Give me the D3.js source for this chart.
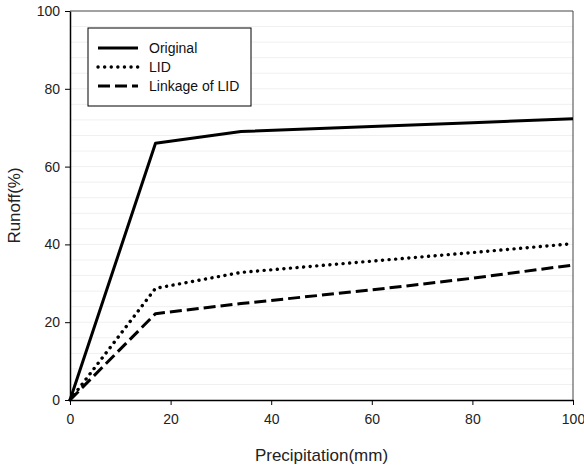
<!DOCTYPE html>
<html>
<head>
<meta charset="utf-8">
<script src="https://cdn.jsdelivr.net/npm/d3@7"></script>
<style>
  body { margin: 0; background: #fff; }
  text { font-family: "Liberation Sans", Arial, sans-serif; }
</style>
</head>
<body>
<svg id="chart"></svg>
<script>
// precipitation (mm) where values were read
const precip = [0, 17, 34, 60, 80, 100];
const original = [0, 66, 69, 70.3, 71.3, 72.3];
const lid = [0, 28.7, 32.8, 35.7, 37.9, 40.2];
const linkage = [0, 22.2, 24.8, 28.3, 31.3, 34.7];
const seriesNames = ['Original', 'LID', 'Linkage of LID'];
const xTicks = [0, 20, 40, 60, 80, 100];
const yTicks = [0, 20, 40, 60, 80, 100];

var width = 584, height = 467;
var margin = { top: 11, right: 11, bottom: 67, left: 70 };

var svg = d3.select('#chart')
  .attr('width', width)
  .attr('height', height);

var x = d3.scaleLinear().domain([0, 100]).range([margin.left, width - margin.right]);
var y = d3.scaleLinear().domain([0, 100]).range([height - margin.bottom, margin.top]);

// light gridlines every 4 %
svg.append('g')
  .selectAll('line')
  .data(d3.range(4, 100, 4))
  .join('line')
    .attr('x1', x(0)).attr('x2', x(100))
    .attr('y1', d => y(d)).attr('y2', d => y(d))
    .attr('stroke', '#f0f0f0')
    .attr('stroke-width', 1);

// frame top/right
svg.append('path')
  .attr('d', `M${x(0)},${y(100)}H${x(100)}V${y(0)}`)
  .attr('fill', 'none')
  .attr('stroke', '#444')
  .attr('stroke-width', 1);

// series
var series = [
  { name: seriesNames[0], values: original, dash: null, cap: 'butt' },
  { name: seriesNames[1], values: lid, dash: '0.1,6.5', cap: 'round' },
  { name: seriesNames[2], values: linkage, dash: '12,5', cap: 'butt' }
];

var line = d3.line()
  .x((d, i) => x(precip[i]))
  .y(d => y(d));

svg.append('g')
  .selectAll('path')
  .data(series)
  .join('path')
    .attr('d', d => line(d.values))
    .attr('fill', 'none')
    .attr('stroke', '#000')
    .attr('stroke-width', d => d.cap === 'round' ? 3.4 : 3)
    .attr('stroke-linejoin', 'round')
    .attr('stroke-linecap', d => d.cap)
    .attr('stroke-dasharray', d => d.dash);

// axes
var xAxis = svg.append('g')
  .attr('transform', 'translate(0,' + y(0) + ')')
  .call(d3.axisBottom(x).tickValues(xTicks).tickSize(5).tickSizeOuter(0).tickPadding(9));
var yAxis = svg.append('g')
  .attr('transform', 'translate(' + x(0) + ',0)')
  .call(d3.axisLeft(y).tickValues(yTicks).tickSize(5).tickSizeOuter(0).tickPadding(5));

[xAxis, yAxis].forEach(function(a) {
  a.select('.domain').attr('stroke', '#000').attr('stroke-width', 1.5);
  a.selectAll('.tick line').attr('stroke', '#000').attr('stroke-width', 1);
  a.selectAll('.tick text')
    .attr('fill', '#222')
    .style('font-size', '14px')
    .style('font-family', '"Liberation Sans", Arial, sans-serif');
});

// axis titles
svg.append('text')
  .attr('x', x(50))
  .attr('y', 461)
  .attr('text-anchor', 'middle')
  .style('font-size', '17px')
  .attr('fill', '#222')
  .text('Precipitation(mm)');

svg.append('text')
  .attr('transform', 'translate(20,' + y(50) + ') rotate(-90)')
  .attr('text-anchor', 'middle')
  .style('font-size', '17px')
  .attr('fill', '#222')
  .text('Runoff(%)');

// legend
var legend = svg.append('g').attr('transform', 'translate(88,28)');
legend.append('rect')
  .attr('width', 163).attr('height', 78)
  .attr('fill', '#fff')
  .attr('stroke', '#000')
  .attr('stroke-width', 1);

var rows = legend.selectAll('g.row')
  .data(series)
  .join('g')
    .attr('class', 'row')
    .attr('transform', (d, i) => 'translate(0,' + (20 + i * 19) + ')');

rows.append('line')
  .attr('x1', 10).attr('x2', 50)
  .attr('stroke', '#000')
  .attr('stroke-width', d => d.cap === 'round' ? 3.4 : 3)
  .attr('stroke-linecap', d => d.cap)
  .attr('stroke-dasharray', d => d.dash);

rows.append('text')
  .attr('x', 61)
  .attr('dy', '0.35em')
  .style('font-size', '14px')
  .attr('fill', '#111')
  .text(d => d.name);
</script>
</body>
</html>
